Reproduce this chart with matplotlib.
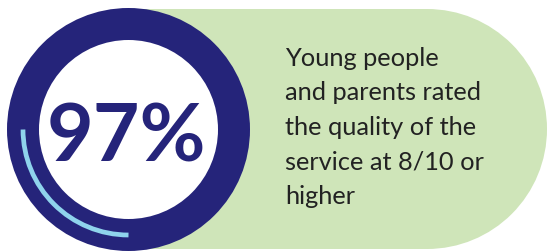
import matplotlib
matplotlib.use("Agg")
import matplotlib.pyplot as plt
from matplotlib.patches import Circle, Rectangle, Arc

# data
value = 97
value_label = f"{value}%"
caption_lines = [
    "Young people",
    "and parents rated",
    "the quality of the",
    "service at 8/10 or",
    "higher",
]

navy = "#25247a"
green = "#cfe5b9"
light_blue = "#8fd3ec"
text_col = "#222222"

W, H = 547, 253
fig = plt.figure(figsize=(W / 100, H / 100), dpi=100)
ax = fig.add_axes([0, 0, 1, 1])
ax.set_xlim(0, W)
ax.set_ylim(H, 0)
ax.set_aspect("equal")
ax.axis("off")

# green pill behind
pill_top, pill_bot = 10, 250
r_pill = (pill_bot - pill_top) / 2
cx_pill = W - r_pill
ax.add_patch(Rectangle((130, pill_top), cx_pill - 130, pill_bot - pill_top,
                       color=green, lw=0))
ax.add_patch(Circle((cx_pill, pill_top + r_pill), r_pill, color=green, lw=0))

# ring
cx, cy = 128.5, 130.5
ax.add_patch(Circle((cx, cy), 121.5, color=navy, lw=0))
ax.add_patch(Circle((cx, cy), 89.5, color="white", lw=0))
ax.add_patch(Arc((cx, cy), 2 * 105.5, 2 * 105.5, theta1=90, theta2=180,
                 color=light_blue, lw=3.4, capstyle="butt"))

ax.text(126.5, 161, value_label, ha="center", va="baseline", color=navy,
        fontsize=58, fontfamily="Lato", fontweight="bold")

# caption, one line at a time
y0, step = 66, 34.5
for i, line in enumerate(caption_lines):
    ax.text(285, y0 + i * step, line, ha="left", va="baseline",
            color=text_col, fontsize=18.3, fontfamily="Lato")

fig.savefig("out.png", dpi=100)
